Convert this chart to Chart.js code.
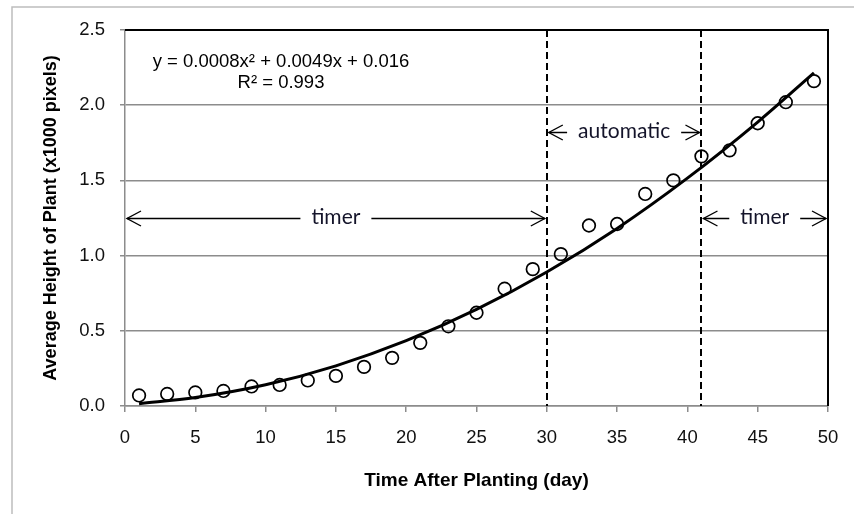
<!DOCTYPE html>
<html>
<head>
<meta charset="utf-8">
<script src="https://cdn.jsdelivr.net/npm/chart.js@4.4.1/dist/chart.umd.min.js"></script>
<style>
  body { margin: 0; background: #fff; }
  #wrap { width: 854px; height: 514px; }
</style>
</head>
<body>
<div id="wrap"><canvas id="plant-chart" width="854" height="514"></canvas></div>
<script>
// measured plant height, every second day
const days = [1, 3, 5, 7, 9, 11, 13, 15, 17, 19, 21, 23, 25, 27, 29, 31, 33, 35, 37, 39, 41, 43, 45, 47, 49]
const heights = [0.07, 0.08, 0.09, 0.10, 0.13, 0.14, 0.17, 0.20, 0.26, 0.32, 0.42, 0.53, 0.62, 0.78, 0.91,
  1.01, 1.20, 1.21, 1.41, 1.50, 1.66, 1.70, 1.88, 2.02, 2.16]

// polynomial trendline
const trendDays = [1, 5, 10, 15, 20, 25, 30, 35, 40, 45, 49]
const trendHeights = [0.015, 0.056, 0.141, 0.267, 0.434, 0.642, 0.891, 1.181, 1.515, 1.888, 2.215]

// watering phases
const phaseStart = [0, 30, 41]
const phaseEnd = [30, 41, 50]
const phaseLabels = ['timer', 'automatic', 'timer']
const phaseLevel = [1.25, 1.82, 1.25]

const xTicks = [0, 5, 10, 15, 20, 25, 30, 35, 40, 45, 50]
const yTicks = [0, 0.5, 1, 1.5, 2, 2.5]

const equationLines = ['y = 0.0008x\u00b2 + 0.0049x + 0.016', 'R\u00b2 = 0.993']

const toPoints = (xs, ys) => xs.map((x, i) => ({ x: x, y: ys[i] }))

const drawArrowHead = (ctx, x, y, dir) => {
  ctx.beginPath()
  ctx.moveTo(x - dir * 14, y - 7.5)
  ctx.lineTo(x, y)
  ctx.lineTo(x - dir * 14, y + 7.5)
  ctx.stroke()
}

const annotate = {
  id: 'annotate',
  beforeDraw(chart) {
    const ctx = chart.ctx
    ctx.save()
    ctx.strokeStyle = '#bdbdbd'
    ctx.lineWidth = 1.5
    ctx.beginPath()
    ctx.moveTo(12, 520)
    ctx.lineTo(12, 7)
    ctx.lineTo(860, 7)
    ctx.stroke()
    ctx.restore()
  },
  beforeDatasetsDraw(chart) {
    const ctx = chart.ctx
    const area = chart.chartArea
    const xs = chart.scales.x
    ctx.save()
    ctx.strokeStyle = '#000'
    ctx.lineWidth = 2
    ctx.setLineDash([7, 4])
    ;[phaseEnd[0], phaseEnd[1]].forEach((d) => {
      const px = Math.round(xs.getPixelForValue(d))
      ctx.beginPath()
      ctx.moveTo(px, area.top)
      ctx.lineTo(px, area.bottom)
      ctx.stroke()
    })
    ctx.restore()
  },
  afterDraw(chart) {
    const ctx = chart.ctx
    const area = chart.chartArea
    const xs = chart.scales.x
    const ys = chart.scales.y
    ctx.save()

    // plot frame, top and right
    ctx.strokeStyle = '#000'
    ctx.lineWidth = 2
    ctx.beginPath()
    ctx.moveTo(area.left, area.top)
    ctx.lineTo(area.right, area.top)
    ctx.lineTo(area.right, area.bottom)
    ctx.stroke()

    // phase arrows
    ctx.lineWidth = 1.4
    ctx.font = '21px Lato'
    ctx.fillStyle = '#14142a'
    ctx.textAlign = 'center'
    ctx.textBaseline = 'middle'
    phaseLabels.forEach((label, i) => {
      const x0 = xs.getPixelForValue(phaseStart[i]) + 2
      const x1 = xs.getPixelForValue(phaseEnd[i]) - 2
      const y = Math.round(ys.getPixelForValue(phaseLevel[i])) + 0.5
      const mid = (x0 + x1) / 2
      const half = ctx.measureText(label).width / 2 + 11
      ctx.beginPath()
      ctx.moveTo(x0, y)
      ctx.lineTo(mid - half, y)
      ctx.moveTo(mid + half, y)
      ctx.lineTo(x1, y)
      ctx.stroke()
      drawArrowHead(ctx, x0, y, -1)
      drawArrowHead(ctx, x1, y, 1)
      ctx.fillText(label, mid, y - 1)
    })

    // trendline equation
    ctx.font = '18.5px "Liberation Sans", Arial'
    ctx.fillStyle = '#000'
    ctx.fillText(equationLines[0], area.left + 156, area.top + 32)
    ctx.fillText(equationLines[1], area.left + 156, area.top + 53)
    ctx.restore()
  },
}

const tickFont = { family: '"Liberation Sans", Arial', size: 18.5 }

const config = {
  type: 'scatter',
  data: {
    datasets: [
      {
        label: 'Average height',
        data: toPoints(days, heights),
        pointStyle: 'circle',
        pointRadius: 6.3,
        pointBorderWidth: 1.7,
        borderColor: '#000',
        backgroundColor: 'rgba(0,0,0,0)',
      },
      {
        label: 'Poly. trend',
        data: toPoints(trendDays, trendHeights),
        showLine: true,
        cubicInterpolationMode: 'monotone',
        pointRadius: 0,
        borderColor: '#000',
        borderWidth: 3,
      },
    ],
  },
  options: {
    responsive: false,
    animation: false,
    devicePixelRatio: 1,
    layout: { padding: { left: 0, top: 30, right: 26, bottom: 0 } },
    plugins: { legend: { display: false }, tooltip: { enabled: false } },
    scales: {
      x: {
        type: 'linear',
        min: xTicks[0],
        max: xTicks[xTicks.length - 1],
        afterBuildTicks: (scale) => {
          scale.ticks = xTicks.map((v) => ({ value: v }))
        },
        afterFit: (scale) => {
          scale.height = 108
        },
        grid: { drawOnChartArea: false, tickLength: 6, color: '#8c8c8c', lineWidth: 1.5 },
        border: { color: '#8c8c8c', width: 1.5 },
        ticks: { font: tickFont, color: '#111', padding: 15, maxRotation: 0 },
        title: {
          display: true,
          text: 'Time After Planting (day)',
          font: { family: '"Liberation Sans", Arial', size: 19, weight: 'bold' },
          color: '#000',
          padding: { top: 0, bottom: 22 },
        },
      },
      y: {
        type: 'linear',
        min: yTicks[0],
        max: yTicks[yTicks.length - 1],
        afterBuildTicks: (scale) => {
          scale.ticks = yTicks.map((v) => ({ value: v }))
        },
        afterFit: (scale) => {
          scale.width = 125
        },
        grid: { tickLength: 5, color: '#8c8c8c', lineWidth: 1.5 },
        border: { color: '#8c8c8c', width: 1.5 },
        ticks: {
          font: tickFont,
          color: '#111',
          padding: 15,
          callback: (v) => Number(v).toFixed(1),
        },
        title: {
          display: true,
          text: 'Average Height of Plant (x1000 pixels)',
          font: { family: '"Liberation Sans", Arial', size: 18, weight: 'bold' },
          color: '#000',
          padding: { top: 40, bottom: 0 },
        },
      },
    },
  },
  plugins: [annotate],
}

new Chart(document.querySelector('#plant-chart'), config)
</script>
</body>
</html>
